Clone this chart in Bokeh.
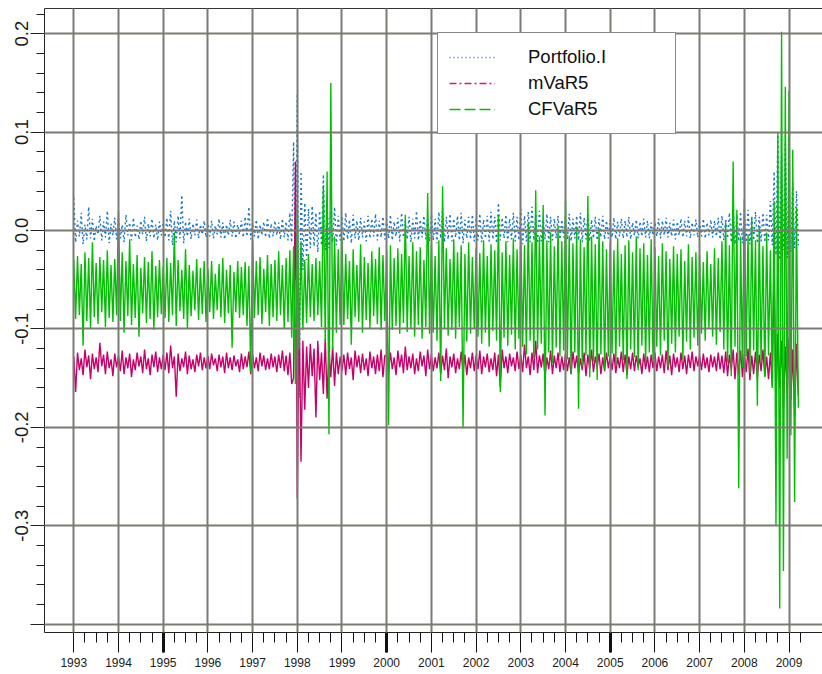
import numpy as np
from bokeh.plotting import figure
from bokeh.models import (Range1d, FixedTicker, LinearAxis, PrintfTickFormatter,
                          Legend, LegendItem, CustomLabelingPolicy)
from bokeh.embed import file_html
from bokeh.resources import INLINE

# Half-monthly observations (24 per year) starting January 1993
start_year = 1993
steps_per_year = 24

series_names = ["Portfolio.I", "mVaR5", "CFVaR5"]
years = list(range(1993, 2010))
y_ticks = [-0.4, -0.3, -0.2, -0.1, 0.0, 0.1, 0.2]

portfolio_i = [
    # 1993
    0.033, -0.012, 0.010, -0.006, 0.018, -0.014, 0.006, -0.009, 0.024, -0.008, 0.012, -0.011,
    0.005, -0.004, 0.015, -0.010, 0.009, -0.007, 0.020, -0.013, 0.007, -0.005, 0.013, -0.009,
    # 1994
    0.011, -0.008, 0.006, -0.012, 0.016, -0.005, 0.008, -0.010, 0.013, -0.007, 0.005, -0.009,
    0.010, -0.004, 0.014, -0.011, 0.007, -0.006, 0.012, -0.008, 0.006, -0.010, 0.009, -0.005,
    # 1995
    0.008, -0.007, 0.013, -0.010, 0.020, -0.015, 0.010, -0.012, 0.015, -0.008, 0.036, -0.013,
    0.009, -0.006, 0.012, -0.009, 0.007, -0.005, 0.011, -0.008, 0.006, -0.004, 0.010, -0.007,
    # 1996
    0.007, -0.006, 0.010, -0.008, 0.005, -0.004, 0.012, -0.007, 0.008, -0.009, 0.006, -0.005,
    0.011, -0.006, 0.009, -0.008, 0.006, -0.004, 0.010, -0.007, 0.014, -0.006, 0.024, -0.009,
    # 1997
    0.008, -0.006, 0.011, -0.009, 0.006, -0.005, 0.009, -0.007, 0.013, -0.008, 0.007, -0.006,
    0.010, -0.005, 0.008, -0.009, 0.012, -0.007, 0.009, -0.010, 0.018, -0.012, 0.090, -0.050,
    # 1998
    0.139, -0.170, 0.060, -0.040, 0.028, -0.030, 0.022, -0.018, 0.025, -0.016, 0.018, -0.022,
    0.020, -0.015, 0.057, -0.020, 0.027, -0.018, 0.019, -0.012, 0.024, -0.015, 0.015, -0.010,
    # 1999
    0.014, -0.011, 0.018, -0.009, 0.011, -0.013, 0.016, -0.008, 0.010, -0.010, 0.013, -0.007,
    0.009, -0.011, 0.015, -0.008, 0.012, -0.006, 0.017, -0.010, 0.010, -0.007, 0.014, -0.009,
    # 2000
    0.011, -0.008, 0.016, -0.010, 0.009, -0.006, 0.013, -0.011, 0.018, -0.007, 0.010, -0.009,
    0.014, -0.012, 0.012, -0.008, 0.020, -0.010, 0.011, -0.007, 0.015, -0.009, 0.013, -0.011,
    # 2001
    0.016, -0.010, 0.012, -0.013, 0.019, -0.008, 0.023, -0.012, 0.014, -0.009, 0.017, -0.011,
    0.012, -0.007, 0.015, -0.010, 0.018, -0.013, 0.011, -0.008, 0.014, -0.009, 0.016, -0.011,
    # 2002
    0.013, -0.010, 0.017, -0.012, 0.011, -0.008, 0.015, -0.011, 0.019, -0.009, 0.014, -0.013,
    0.028, -0.010, 0.013, -0.008, 0.016, -0.012, 0.012, -0.009, 0.018, -0.011, 0.014, -0.010,
    # 2003
    0.022, -0.014, 0.015, -0.011, 0.019, -0.012, 0.024, -0.010, 0.016, -0.013, 0.020, -0.011,
    0.013, -0.009, 0.017, -0.012, 0.014, -0.010, 0.012, -0.008, 0.015, -0.009, 0.011, -0.007,
    # 2004
    0.014, -0.009, 0.017, -0.011, 0.012, -0.008, 0.015, -0.010, 0.018, -0.012, 0.013, -0.009,
    0.016, -0.011, 0.011, -0.008, 0.014, -0.010, 0.012, -0.007, 0.015, -0.009, 0.010, -0.008,
    # 2005
    0.011, -0.007, 0.013, -0.009, 0.009, -0.006, 0.012, -0.008, 0.010, -0.007, 0.014, -0.009,
    0.008, -0.005, 0.011, -0.008, 0.009, -0.006, 0.012, -0.007, 0.010, -0.008, 0.008, -0.005,
    # 2006
    0.009, -0.006, 0.012, -0.008, 0.010, -0.005, 0.013, -0.007, 0.008, -0.006, 0.011, -0.009,
    0.009, -0.005, 0.012, -0.007, 0.010, -0.006, 0.014, -0.008, 0.008, -0.005, 0.011, -0.007,
    # 2007
    0.009, -0.006, 0.012, -0.008, 0.008, -0.005, 0.011, -0.007, 0.010, -0.006, 0.013, -0.009,
    0.015, -0.010, 0.012, -0.008, 0.018, -0.012, 0.022, -0.014, 0.016, -0.011, 0.019, -0.013,
    # 2008
    0.017, -0.012, 0.021, -0.014, 0.015, -0.010, 0.019, -0.013, 0.014, -0.011, 0.018, -0.012,
    0.016, -0.010, 0.030, -0.015, 0.060, -0.025, 0.100, -0.030, 0.075, -0.020, 0.090, -0.028,
    # 2009
    0.065, -0.022, 0.050, -0.018, 0.040, -0.015,
]

mvar5 = [
    # 1993
    -0.128, -0.164, -0.124, -0.142, -0.130, -0.147, -0.121, -0.139, -0.127, -0.151, -0.125, -0.141,
    -0.129, -0.144, -0.114, -0.138, -0.126, -0.146, -0.123, -0.140, -0.131, -0.148, -0.125, -0.139,
    # 1994
    -0.127, -0.143, -0.122, -0.146, -0.129, -0.140, -0.125, -0.149, -0.131, -0.142, -0.124, -0.138,
    -0.128, -0.145, -0.121, -0.141, -0.130, -0.147, -0.126, -0.139, -0.123, -0.144, -0.129, -0.141,
    # 1995
    -0.126, -0.142, -0.124, -0.145, -0.117, -0.140, -0.128, -0.169, -0.125, -0.143, -0.130, -0.139,
    -0.123, -0.146, -0.127, -0.141, -0.131, -0.144, -0.126, -0.138, -0.124, -0.142, -0.129, -0.140,
    # 1996
    -0.127, -0.141, -0.125, -0.137, -0.130, -0.143, -0.126, -0.139, -0.128, -0.145, -0.124, -0.140,
    -0.129, -0.142, -0.127, -0.138, -0.131, -0.144, -0.125, -0.141, -0.128, -0.139, -0.123, -0.146,
    # 1997
    -0.126, -0.140, -0.129, -0.143, -0.124, -0.138, -0.127, -0.142, -0.130, -0.141, -0.125, -0.139,
    -0.128, -0.144, -0.126, -0.140, -0.122, -0.143, -0.127, -0.147, -0.124, -0.156, -0.150, 0.070,
    # 1998
    -0.272, -0.080, -0.235, -0.112, -0.182, -0.118, -0.160, -0.115, -0.148, -0.120, -0.190, -0.112,
    -0.152, -0.124, -0.166, -0.110, -0.171, -0.121, -0.149, -0.118, -0.158, -0.124, -0.146, -0.128,
    # 1999
    -0.143, -0.126, -0.147, -0.124, -0.141, -0.129, -0.152, -0.122, -0.139, -0.127, -0.145, -0.125,
    -0.142, -0.130, -0.148, -0.123, -0.140, -0.128, -0.146, -0.126, -0.143, -0.121, -0.149, -0.127,
    # 2000
    -0.127, -0.144, -0.124, -0.141, -0.129, -0.147, -0.122, -0.139, -0.126, -0.145, -0.118, -0.142,
    -0.128, -0.140, -0.125, -0.146, -0.130, -0.143, -0.123, -0.138, -0.127, -0.148, -0.121, -0.141,
    # 2001
    -0.126, -0.143, -0.129, -0.140, -0.124, -0.146, -0.127, -0.142, -0.120, -0.150, -0.128, -0.139,
    -0.125, -0.145, -0.130, -0.141, -0.123, -0.144, -0.126, -0.147, -0.129, -0.140, -0.124, -0.143,
    # 2002
    -0.127, -0.141, -0.122, -0.146, -0.128, -0.139, -0.125, -0.144, -0.130, -0.142, -0.124, -0.148,
    -0.126, -0.159, -0.121, -0.140, -0.128, -0.145, -0.125, -0.138, -0.129, -0.143, -0.123, -0.141,
    # 2003
    -0.126, -0.144, -0.116, -0.140, -0.128, -0.147, -0.124, -0.142, -0.112, -0.145, -0.127, -0.139,
    -0.125, -0.149, -0.129, -0.141, -0.122, -0.146, -0.127, -0.140, -0.124, -0.144, -0.128, -0.142,
    # 2004
    -0.125, -0.143, -0.129, -0.146, -0.123, -0.140, -0.127, -0.145, -0.130, -0.142, -0.124, -0.148,
    -0.126, -0.141, -0.121, -0.144, -0.128, -0.139, -0.125, -0.146, -0.129, -0.143, -0.124, -0.140,
    # 2005
    -0.127, -0.142, -0.125, -0.145, -0.129, -0.140, -0.123, -0.144, -0.126, -0.147, -0.128, -0.141,
    -0.124, -0.143, -0.127, -0.139, -0.130, -0.146, -0.125, -0.141, -0.128, -0.144, -0.126, -0.140,
    # 2006
    -0.124, -0.143, -0.128, -0.140, -0.126, -0.145, -0.122, -0.142, -0.127, -0.147, -0.125, -0.139,
    -0.129, -0.144, -0.124, -0.141, -0.127, -0.146, -0.126, -0.140, -0.123, -0.143, -0.128, -0.138,
    # 2007
    -0.127, -0.142, -0.125, -0.140, -0.129, -0.144, -0.126, -0.139, -0.128, -0.143, -0.124, -0.141,
    -0.127, -0.145, -0.123, -0.148, -0.126, -0.142, -0.121, -0.151, -0.124, -0.146, -0.122, -0.149,
    # 2008
    -0.125, -0.144, -0.120, -0.152, -0.127, -0.146, -0.123, -0.150, -0.126, -0.143, -0.121, -0.148,
    -0.128, -0.151, -0.124, -0.158, -0.032, -0.176, -0.105, -0.160, -0.112, -0.181, -0.118, -0.166,
    # 2009
    -0.110, -0.172, -0.121, -0.190, -0.115, -0.168,
]

cfvar5 = [
    # 1993
    -0.030, -0.090, -0.026, -0.086, -0.034, -0.117, -0.022, -0.092, -0.028, -0.100, -0.012, -0.088,
    -0.033, -0.095, -0.027, -0.083, -0.030, -0.098, -0.020, -0.089, -0.035, -0.093, -0.029, -0.086,
    # 1994
    0.020, -0.092, -0.022, -0.104, -0.031, -0.087, -0.009, -0.096, -0.034, -0.089, -0.025, -0.108,
    -0.038, -0.084, -0.027, -0.094, -0.032, -0.090, -0.021, -0.101, -0.036, -0.088, -0.030, -0.085,
    # 1995
    -0.036, -0.089, -0.028, -0.093, -0.033, -0.086, -0.002, -0.097, -0.030, -0.082, -0.040, -0.090,
    -0.019, -0.099, -0.035, -0.087, -0.041, -0.081, -0.029, -0.091, -0.038, -0.085, -0.031, -0.093,
    # 1996
    -0.039, -0.083, -0.031, -0.090, -0.044, -0.081, -0.034, -0.088, -0.028, -0.094, -0.040, -0.084,
    -0.035, -0.119, -0.042, -0.083, -0.031, -0.089, -0.037, -0.086, -0.032, -0.097, -0.036, -0.144,
    # 1997
    -0.010, -0.089, -0.031, -0.086, -0.027, -0.095, -0.039, -0.083, -0.025, -0.097, -0.034, -0.088,
    -0.030, -0.092, -0.021, -0.086, -0.035, -0.100, -0.028, -0.093, -0.020, -0.109, -0.016, -0.156,
    # 1998
    0.024, -0.121, -0.011, -0.101, -0.030, -0.094, -0.024, -0.088, -0.034, -0.092, -0.028, -0.086,
    -0.031, -0.098, 0.046, -0.112, 0.060, -0.207, 0.150, -0.121, -0.006, -0.104, -0.019, -0.096,
    # 1999
    -0.008, -0.096, -0.024, -0.090, -0.031, -0.116, -0.019, -0.088, -0.035, -0.093, -0.014, -0.104,
    -0.027, -0.091, -0.033, -0.099, -0.021, -0.087, -0.029, -0.095, -0.017, -0.101, -0.025, -0.092,
    # 2000
    -0.020, -0.198, -0.015, -0.101, -0.028, -0.097, -0.018, -0.105, -0.024, -0.094, 0.016, -0.103,
    -0.026, -0.099, -0.012, -0.108, -0.021, -0.096, -0.017, -0.110, -0.030, -0.098, 0.038, -0.105,
    # 2001
    -0.014, -0.104, -0.026, -0.112, -0.010, -0.153, 0.045, -0.099, -0.018, -0.107, -0.029, -0.101,
    -0.009, -0.110, -0.022, -0.098, -0.015, -0.201, -0.024, -0.113, -0.012, -0.105, -0.027, -0.100,
    # 2002
    -0.018, -0.108, -0.023, -0.115, -0.010, -0.104, -0.026, -0.118, -0.014, -0.102, -0.020, -0.112,
    0.016, -0.164, -0.022, -0.109, -0.011, -0.117, -0.025, -0.106, -0.008, -0.121, -0.019, -0.110,
    # 2003
    -0.004, -0.118, -0.015, -0.126, 0.008, -0.112, -0.012, -0.130, 0.041, -0.121, -0.006, -0.115,
    0.026, -0.188, -0.010, -0.124, -0.002, -0.135, -0.016, -0.119, 0.005, -0.128, -0.011, -0.122,
    # 2004
    0.030, -0.131, -0.005, -0.146, -0.013, -0.124, 0.004, -0.181, -0.009, -0.138, -0.017, -0.127,
    0.035, -0.149, -0.006, -0.133, -0.014, -0.152, 0.002, -0.126, -0.011, -0.141, -0.019, -0.128,
    # 2005
    -0.012, -0.125, -0.020, -0.138, -0.008, -0.118, -0.024, -0.132, -0.015, -0.151, -0.010, -0.121,
    -0.022, -0.129, -0.006, -0.142, -0.018, -0.117, -0.013, -0.135, -0.025, -0.124, -0.009, -0.131,
    # 2006
    -0.017, -0.118, -0.026, -0.127, -0.013, -0.112, -0.021, -0.139, -0.029, -0.115, -0.016, -0.124,
    -0.024, -0.108, -0.019, -0.131, -0.031, -0.113, -0.014, -0.121, -0.027, -0.109, -0.022, -0.117,
    # 2007
    -0.025, -0.105, -0.032, -0.112, -0.021, -0.099, -0.034, -0.108, -0.018, -0.116, -0.028, -0.103,
    -0.011, -0.121, 0.008, -0.134, -0.015, -0.148, 0.070, -0.118, 0.021, -0.262, -0.006, -0.139,
    # 2008
    0.032, -0.128, -0.004, -0.145, 0.012, -0.122, -0.010, -0.178, 0.004, -0.133, -0.016, -0.149,
    -0.002, -0.127, -0.020, -0.160, 0.030, -0.300, 0.100, -0.384, 0.202, -0.346, 0.146, -0.232,
    # 2009
    0.142, -0.208, 0.082, -0.276, 0.024, -0.180,
]


def time_index(values):
    return start_year + np.arange(len(values)) / steps_per_year


FONT = "Liberation Sans"
GRID = "#7b7b73"
BLUE, PINK, GREEN = "#1874CD", "#C8006A", "#00BE00"

p = figure(width=822, height=674, output_backend="svg", toolbar_location=None,
           x_range=Range1d(1992.345, 2009.749), y_range=Range1d(-0.4085, 0.2256),
           x_axis_location=None, y_axis_location="left",
           min_border_left=44, min_border_right=0, min_border_top=8, min_border_bottom=42)
p.outline_line_color = None
p.background_fill_color = "white"
p.border_fill_color = "white"

# the three series; dense sampling makes them read as filled bands
p.line(time_index(portfolio_i), portfolio_i, line_color=BLUE, line_width=1.4, line_dash="2 3")
p.line(time_index(mvar5), mvar5, line_color=PINK, line_width=1.4)
p.line(time_index(cfvar5), cfvar5, line_color=GREEN, line_width=1.4)

# hidden copies that carry each series' line type into the legend
key_port = p.line(time_index(portfolio_i), portfolio_i, line_color=BLUE, line_width=1.3,
                  line_dash="1 3", visible=False)
key_mvar = p.line(time_index(mvar5), mvar5, line_color="#D81B7A", line_width=1.6,
                  line_dash="7 3 2 3", visible=False)
key_cf = p.line(time_index(cfvar5), cfvar5, line_color=GREEN, line_width=1.3,
                line_dash="11 4", visible=False)

# grid on top of the series
p.xgrid.ticker = FixedTicker(ticks=years)
p.ygrid.ticker = FixedTicker(ticks=y_ticks)
for g in (p.xgrid, p.ygrid):
    g.grid_line_color = GRID
    g.grid_line_width = 2
    g.level = "guide"

# left axis (the lowest major tick carries no label)
ya = p.yaxis[0]
ya.ticker = FixedTicker(ticks=y_ticks,
                        minor_ticks=[round(v, 2) for v in np.arange(-0.40, 0.2201, 0.02)])
ya.formatter = PrintfTickFormatter(format="%.1f")
ya.major_label_policy = CustomLabelingPolicy(
    code="let lo = -1, ly = -Infinity\n"
         "for (const i of indices) { const b = bboxes[i]; const c = (b.top + b.bottom) / 2\n"
         "  if (c > ly) { ly = c; lo = i } }\n"
         "if (lo >= 0) indices.unset(lo)\nreturn indices")
ya.major_tick_out = 14
ya.major_tick_in = 0
ya.minor_tick_out = 8
ya.minor_tick_in = 0
ya.axis_line_color = "#222222"
ya.major_tick_line_color = "#222222"
ya.minor_tick_line_color = "#222222"
ya.major_label_orientation = "vertical"
ya.major_label_text_font = FONT
ya.major_label_text_font_size = "18.5px"
ya.major_label_text_color = "#1a1a1a"
ya.major_label_standoff = 2

# bottom: heavy ticks every five years (zero-size axis next to the frame)
ax_heavy = LinearAxis(ticker=FixedTicker(ticks=[1995, 2000, 2005], minor_ticks=[]),
                      major_tick_in=-20, major_tick_out=0, major_tick_line_width=3,
                      major_tick_line_color="#111111",
                      minor_tick_in=0, minor_tick_out=0,
                      major_label_policy=CustomLabelingPolicy(
                          code="for (const i of indices) indices.unset(i)\nreturn indices"),
                      major_label_text_font_size="0px", major_label_standoff=0,
                      axis_line_color="#222222")
p.add_layout(ax_heavy, "below")

quarters = [y + q / 4 for y in range(1993, 2010) for q in (1, 2, 3)]
quarters = [q for q in quarters if q <= 2009.25]
ax_years = LinearAxis(ticker=FixedTicker(ticks=years, minor_ticks=quarters),
                      formatter=PrintfTickFormatter(format="%d"),
                      major_tick_in=0, major_tick_out=20, minor_tick_in=0, minor_tick_out=10,
                      major_tick_line_color="#111111", minor_tick_line_color="#111111",
                      axis_line_color=None,
                      major_label_text_font=FONT, major_label_text_font_size="12px",
                      major_label_text_color="#1a1a1a", major_label_standoff=5)
p.add_layout(ax_years, "below")

# top edge of the box
ax_top = LinearAxis(ticker=FixedTicker(ticks=[], minor_ticks=[]),
                    major_tick_in=0, major_tick_out=0, minor_tick_in=0, minor_tick_out=0,
                    major_label_policy=CustomLabelingPolicy(
                        code="for (const i of indices) indices.unset(i)\nreturn indices"),
                    major_label_text_font_size="0px", major_label_standoff=0,
                    axis_line_color="#333333")
p.add_layout(ax_top, "above")

legend = Legend(items=[LegendItem(label=series_names[0], renderers=[key_port]),
                       LegendItem(label=series_names[1], renderers=[key_mvar]),
                       LegendItem(label=series_names[2], renderers=[key_cf])],
                location=(393, 498), orientation="vertical",
                border_line_color="#111111", border_line_width=1,
                background_fill_color="white", background_fill_alpha=1.0,
                inactive_fill_alpha=0.0,
                label_text_font=FONT, label_text_font_size="18.5px", label_text_color="#111111",
                glyph_width=46, glyph_height=20, label_height=26, label_width=136,
                label_standoff=33, padding=11, spacing=0, margin=0)
p.add_layout(legend, "center")

open("out.html", "w").write(file_html(p, INLINE))
